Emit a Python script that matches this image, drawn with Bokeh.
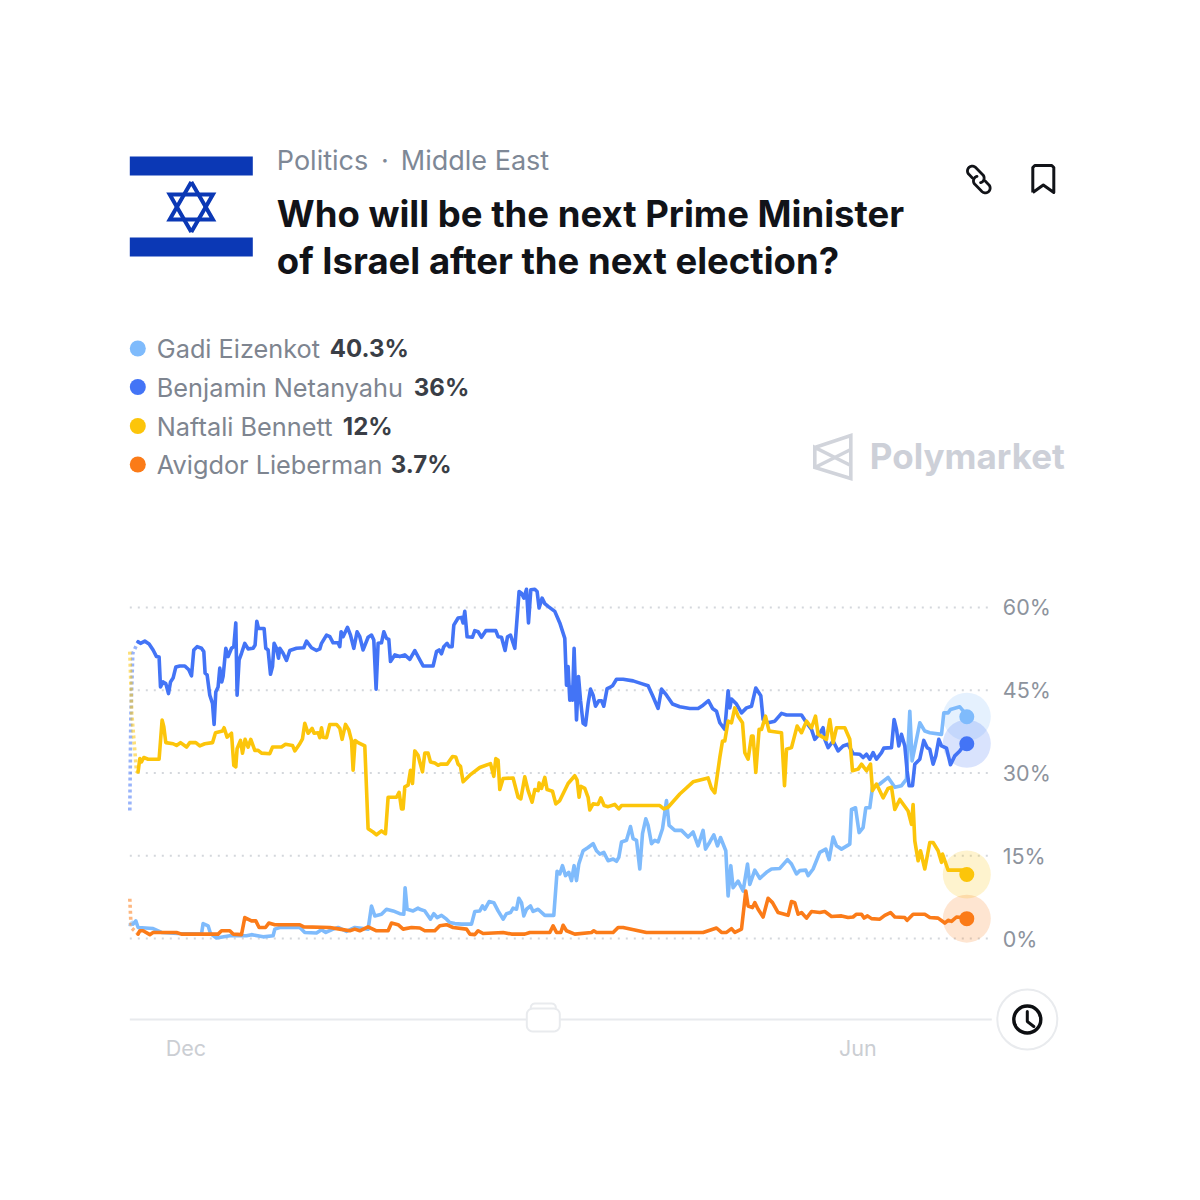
import math
from bokeh.plotting import figure
from bokeh.models import FixedTicker
from bokeh.core.properties import value
from bokeh.embed import file_html
from bokeh.resources import INLINE

# ---- data (time step, percent) ----
gadi_t = [3.3,6,8.3,23.3,31.7,48,71.7,73.3,78.3,80.7,86.7,100,116.7,121.7,133.3,143.3,145,150,170,175,186.7,191.7,196,203.3,208.3,216.7,225,238.3,241.7,245,251.7,256.7,263.3,270,274,275.3,277.3,283.3,288.3,290,295,300.7,304,307.3,311.7,316.7,320,325,331.7,341.7,345,350,352.7,355,359.3,364,368.3,373.3,376.7,380.7,383.3,386.7,389,391.7,394,396.7,400.7,403.3,408.3,415,424,427.3,430,432.7,435.7,439,441.7,444.3,446.7,449,453.3,458.3,463.3,466.7,470,474,478.3,483.3,486.7,489,491.7,496.7,500.7,503.3,506.7,510,512.7,516,518.3,521.7,525,528.3,532.7,536.7,539.3,545,551.7,558.3,563.3,568.3,573.3,575.7,580,584,587.7,590.7,596,598.3,601,603.3,608.3,613.3,617.7,620,625,630,636.7,641.7,650,657.7,661.7,666.7,670,676,678.3,683.3,690,696,699.3,703.3,706.7,711.7,720,721.7,725.7,729.3,733.3,736,740,742.7,750,758.3,765,771.7,776.7,780,782.3,785,790,795,800,811.7,814,818.3,820.7,830,835,837]
gadi_v = [2.6,3.2,2,1.8,1.1,0.9,0.8,2.7,2.3,0.9,0.1,0.5,0.5,0.7,0.3,0.5,1.7,2,2,1.1,1,1.6,1.1,1.7,2,1.3,2,1.7,5.9,4.1,4.4,5.3,5,4.5,4.4,9.2,5.3,5,5.5,5.3,5,3.5,4.5,3.8,4.2,3.5,2.9,2.7,2.6,2.6,4.9,5,5.9,5.3,6.7,6.5,5,3.5,4.5,4.7,5.5,5.3,7.3,6.5,4.1,5.3,5.9,4.9,5.3,4.2,4.2,12.2,11.7,13.2,11.4,12,10.5,13.2,10.5,13.5,15.9,16.5,17.2,15.9,15.3,15.6,14.1,14.4,14,14.7,17.5,17.8,20.3,18.1,17.8,12.6,19,21.7,20.5,17.2,17.8,17.5,19.9,25,20.5,19.6,19.6,18.4,19.3,16.8,19.6,16.2,17.5,18.8,16.8,18.3,15.9,7.7,13.2,9.2,10.4,8.6,13.5,9.8,12.4,10.9,12,12.6,12.7,14.3,13.5,11.7,12.3,12.4,11.4,12.6,15.6,16.2,14.3,18.4,16.8,16.2,17.1,23.4,23.7,19.2,20.1,23.7,23.7,27.4,28,29.2,27.4,27.7,28.9,41.2,32.2,34.6,39.1,37.6,37.3,37,40.9,40.9,41.5,42,40.9,40.2]

bibi_t = [8.3,10.7,15,19.3,23.3,26.7,29.3,30.7,33.3,36,38.7,40.7,43.3,46,50,55,59,61.7,64,67.3,71.7,74,75.3,77.3,80,82.7,84.3,86,88.3,90,92,93.3,96,98.3,101.7,104,106,107.3,109.3,111.7,115,118.3,123.3,125.3,127,128.7,134.3,136,138.3,140.7,142.7,144.3,146.7,148.7,150,153.3,156.7,160,166.7,174,176.7,181.7,186.7,190,191.7,196.7,200,203.3,208.3,210,211.3,213.3,217.7,220.7,224,227.3,230,233.3,238.3,241.7,244,246.3,248.3,251.7,254,256.7,259,260.7,265,270,275,280,285,290,293.3,303.3,306.7,309.3,311.7,314,317.3,319.3,322.3,324,328.3,331.7,333.3,335,337.3,342.7,345,348.3,351.7,356,366,368.3,371.7,375.3,377.7,380.7,385,389.3,391.7,394,396.7,398.7,401,405,407.3,409.3,412.3,415,418.3,425,430,435,436.7,438.3,440,441.7,442.7,444.3,446.7,448.7,450.7,453.3,455.7,458.3,460.7,463.3,465.7,469,471.7,474,477.3,480,482.7,486.7,493.3,503.3,511.7,518.3,523.3,528.3,531.7,536.7,542.7,550,560,568.3,573.3,578.7,582.7,586.7,590,595,598.3,600,601.7,606.7,611.7,616.7,621.7,626,631,633.3,638.3,645,651.7,656.7,671.7,676.7,681.7,685,689.3,693.3,695,698.3,703.3,708.3,713.3,718.3,723.3,730,733.3,736.7,740,743.3,746.7,751.7,754,761.7,764.3,766.7,769,771.7,775,777.3,779.3,782.7,785,790,794,797.3,800,803.3,806,809,811.7,816.7,820.7,825,830,835,837]
bibi_v = [53.8,53.5,53.9,53.4,52.3,51.1,51,45.6,46.5,46.2,44.4,46.5,47.2,49.2,49.4,49.4,48.7,47.6,52.3,52.9,52.6,52,48.1,47.8,44.1,42.6,38.8,44.7,45.6,49,46.5,47.5,52.6,51.1,52.6,52.9,57.2,44.1,50.5,51.7,53.5,52.5,52.6,53.2,57.5,56.2,56.2,52.6,52.3,47.9,49.3,53.5,52.6,50.8,52.6,51.7,50.4,52.2,52.6,52.7,53.9,52.7,52.2,52.5,53.5,55,54.7,53.6,53.6,52.9,55.6,54.7,56.4,55,52.6,55.6,54.7,52.3,54.6,55,54.1,45.2,53.5,53.6,55.6,54.4,54.2,50.2,51.4,51.1,51.4,50.6,52.2,50.5,49.4,49.4,52,52.3,51.6,52.9,53.5,52.9,52.9,56.8,58.1,58.2,57.2,59.3,54.7,54.6,55.8,55.6,54.6,55.8,55.8,54.7,54.6,52.2,54.7,55,52.6,62.9,62.6,61.7,63.3,57.2,63.2,63.3,62.9,59.9,61.7,60.7,60.2,59.3,57.2,54.4,45.9,49.3,43.2,45.6,43.2,52.6,39.6,47.5,43.2,39,38.7,42.6,45.2,44.1,42.1,43.1,43.1,42.1,45.3,45.5,45.8,47,47,46.7,46.2,45.8,43.8,41.7,45.2,44.1,42.5,42,41.7,41.7,42.3,43.1,41.7,41.2,39.1,37.9,44.9,41.8,43.4,42.5,40.9,41.8,42.1,45.4,44,39.7,39.1,39.4,40.8,40.5,40.5,39.1,37.9,36.1,37,38.2,36.1,34.6,35.8,34,34.9,35.2,33.5,33.4,32.8,33.4,32.5,33.7,32.5,33.7,34.5,34.6,39.7,37.9,34.9,37,34.9,30.4,27.7,27.7,31.6,32.5,35.9,34.6,34.3,31.6,33.1,36.1,34.9,34.5,31.5,33.1,34,35.2,35.3]

bennett_t = [8.3,10,11.7,14,18.3,29.3,32.3,34,36,43.3,46.7,50.7,56.7,60,66,70,75,82.7,85.7,92.7,94.3,97.3,101.7,104,106,107.3,110.7,112.7,115.3,118.3,121,125,128.3,131.7,140,142.7,151.7,155.7,162.7,165,170,172.7,175,178.3,182.3,184.3,188.3,190,191.7,193.3,196.7,200,206.7,210,212.3,215.7,219,221.7,223.3,225.3,228.3,235,238.3,243.3,246.7,251.7,255.7,258.3,266.7,269.3,271.7,273.3,275,278.3,280.7,282.7,285,288.3,290,292.7,295,298.3,300.7,305,308.3,310.7,317.3,322.7,326,328.3,330.7,333.3,340,350,360.7,364,366,368.3,370,373.3,383.3,388.3,391,395,398.3,402.3,405,408.3,409.3,411.7,415,417.3,422.7,426,430,438.3,445,447.3,449.3,451,455,458.3,460,463.3,468.3,471,474.3,478.3,485,489,491.7,530,534,538.3,550,563.3,578.3,581.7,585,590,592.7,595,598.3,601.7,605,608.3,612.7,615,618.3,621.7,623.3,626,629.3,631.7,635.7,639.3,651.7,654.7,656.7,661.7,667.3,671.7,676.7,681.7,685.7,688.3,696.7,700,703.3,706.7,715,720,722.7,728.3,731.7,736.7,740.7,742.7,746.7,753.3,758.3,761.7,765,770,778.3,781.7,783.3,785,788.3,790.7,795,800,803.3,808.3,811.7,812.7,818.3,836,837]
bennett_v = [30.2,32.6,32,32.8,32.5,32.5,39.6,38.4,35.5,35.3,35,35.5,34.7,35.5,35.5,34.9,35.3,35.5,37.3,37.6,38.2,36.5,37.2,31.4,31.1,34.4,35.9,33.6,36.1,34.7,36.1,34.1,34.1,33.6,33.5,34.7,34.7,35.2,35,34,35.3,36.2,39,37.2,38.1,37.2,37.3,36.4,38.2,36.5,36.4,38.8,38.8,38.1,36.1,38.8,37.8,35.9,30.5,35.9,35.5,34.9,19.9,19.3,18.8,19.5,19,25.6,25.6,26.5,23.5,23.5,27.5,27.8,30.5,28.1,34,33.2,32,30.2,33.6,33.6,32,31.8,31.4,31.6,31.6,33,32.9,31.6,31.2,28.4,29.6,31,31.7,29.4,32.6,32.3,27,29,29.1,25.6,25.3,29.3,26.8,24.7,27,26.8,28.2,27.2,29.2,27,26.7,24.4,25,28.1,29.5,28.7,25.6,27.6,27.2,25.6,23.3,24.4,24.3,25.5,24.1,23.9,24.3,23.5,24.1,24.1,23.5,23.8,26.2,28.4,29.1,27.2,26.4,32.8,35.8,35.8,39.4,39.1,41.8,40.3,39.1,33.7,32.5,36.7,36.7,30.1,37.9,37.9,40.3,37.6,37.3,27.7,34.3,34.6,38.5,37.3,39.4,38.2,40.3,37,36.1,39.7,35.5,38.2,38.2,36.1,30.4,30.7,31.6,30.4,31.6,26.8,28,25.5,27.2,27.4,23.4,25.2,23.1,20.7,24.3,17.7,14.1,15.9,12.6,17.4,17.4,15.9,13.8,15.3,12.4,12.4,11.6]

lieberman_t = [8.3,10,13.3,20,23.3,46.7,51.7,88.3,91.7,100,103.3,111.7,115,121.7,126,129.3,135.7,139,145,170,174,200,210,220,225,230,238.3,246.7,258.3,261.7,268.3,273.3,281.7,290,295,305,310,316.7,323.3,336.7,340,345,348.3,353.3,373.3,381.7,395,400,420,423.3,426.7,431,433.3,436.7,445,461.7,464,466.7,483.3,488.3,493.3,516.7,573.3,580,586.7,591.7,596.7,601.7,605,611.7,616,618.3,622.7,625,628.3,633.3,638.3,642.7,648.3,658.3,661.7,665,668.3,671.7,676.7,681.7,690,695,701.7,711.7,718.3,723.3,726.7,731.7,734.3,737.7,741.7,750,755,760.7,765,775,777.3,783.3,795,800,808.3,815,818.3,821.7,826.7,836,837]
lieberman_v = [0.8,1.4,1.4,0.7,1.1,1.1,0.8,0.8,1.4,1.4,0.8,0.7,3.8,3.2,3.2,2,2,2.8,2.5,2.5,2.1,2,1.7,1.4,1.7,1.4,2.1,1.4,1.4,2.8,2.5,1.7,2,1.9,1.4,1.4,2.3,2.5,2,1.7,0.8,0.7,1.4,0.9,1.1,0.8,0.8,1.1,1.1,2.3,1.1,1.1,2.4,1.4,0.8,1.1,1.4,1.1,1.1,2,2,1.1,1.1,1.5,1.9,1.1,1.1,1.8,1.1,1.7,8.6,5.9,5.6,6.5,5.3,3.9,7.3,6.5,4.7,4.2,6.7,6.5,4.4,4.7,3.7,4.9,4.7,4.9,4,4.1,3.8,3.9,4.4,4.4,3.7,4.1,3.6,3.5,4.2,4.7,3.9,3.8,3.3,4.4,4.4,3.8,3.7,2.8,3.3,3.1,3.9,3.7,3.6]

# faded lead-in of each series at the left edge
gadi_lead_t, gadi_lead_v = [0,1,3.3], [2.2,3.2,2.6]
bibi_lead_t, bibi_lead_v = [0,1,3,8.3], [23.2,40,51.7,53.8]
bennett_lead_t, bennett_lead_v = [0,2,6.7,8.3], [52,40.8,30.2,30.2]
lieberman_lead_t, lieberman_lead_v = [0,1.3,8.3], [7.2,2,0.8]

y_ticks = [0,15,30,45,60]
y_tick_labels = ["0%","15%","30%","45%","60%"]
x_ticks = [56,728]
x_tick_labels = ["Dec","Jun"]

names = ["Gadi Eizenkot","Benjamin Netanyahu","Naftali Bennett","Avigdor Lieberman"]
shares = ["40.3%","36%","12%","3.7%"]
colors = ["#7FBBFC","#4374F6","#FCC50A","#FB7B18"]
category_left = "Politics"
category_dot = "·"
category_right = "Middle East"
title_lines = ["Who will be the next Prime Minister","of Israel after the next election?"]
brand = "Polymarket"

# ---- page geometry helpers: page pixels -> chart scale ----
PX = 5.517
def X(px): return px-130
def Y(py): return (938-py)/PX
def XS(a): return [X(v) for v in a]
def YS(a): return [Y(v) for v in a]

FONT = value("Inter")
p = figure(width=1184, height=1184, output_backend="svg", toolbar_location=None,
           x_range=(X(0.7),X(1184.7)), y_range=(Y(1184),Y(0)),
           x_axis_location="below", y_axis_location="right",
           min_border=0, min_border_left=0, min_border_right=0, min_border_top=0, min_border_bottom=0,
           outline_line_color=None, background_fill_color="white", border_fill_color="white")
p.grid.visible = False

ya = p.yaxis[0]
ya.fixed_location = X(990)
ya.ticker = FixedTicker(ticks=y_ticks)
ya.major_label_overrides = dict(zip(y_ticks,y_tick_labels))
ya.axis_line_color = None
ya.major_tick_line_color = None
ya.minor_tick_line_color = None
ya.major_label_standoff = 7
ya.major_label_text_font = "Inter"
ya.major_label_text_font_size = "21.5px"
ya.major_label_text_color = "#8D939D"

xa = p.xaxis[0]
xa.fixed_location = Y(1019)
xa.ticker = FixedTicker(ticks=x_ticks)
xa.major_label_overrides = dict(zip(x_ticks,x_tick_labels))
xa.axis_line_color = None
xa.major_tick_line_color = None
xa.minor_tick_line_color = None
xa.major_label_standoff = 9
xa.major_label_text_font = "Inter"
xa.major_label_text_font_size = "21.5px"
xa.major_label_text_color = "#CBCED3"

# dotted gridlines and slider rule
p.segment(x0=[X(130)]*len(y_ticks), x1=[X(990)]*len(y_ticks), y0=y_ticks, y1=y_ticks,
          line_color="#D4D7DC", line_width=2, line_dash="2 6")
p.segment(x0=[X(130)], x1=[X(992)], y0=[Y(1019)], y1=[Y(1019)], line_color="#E8EAED", line_width=2)

# series
series = [(gadi_t,gadi_v,gadi_lead_t,gadi_lead_v),(bibi_t,bibi_v,bibi_lead_t,bibi_lead_v),
          (bennett_t,bennett_v,bennett_lead_t,bennett_lead_v),(lieberman_t,lieberman_v,lieberman_lead_t,lieberman_lead_v)]
for (t,v,lt,lv),c in zip(series,colors):
    p.line(lt,lv,line_color=c,line_width=3.6,line_alpha=0.55,line_dash="3 3")
for (t,v,lt,lv),c in zip(series,colors):
    p.line(t,v,line_color=c,line_width=3.6,line_join="round",line_cap="round")
for (t,v,lt,lv),c in zip(series,colors):
    p.scatter([t[-1]],[v[-1]],size=48,fill_color=c,fill_alpha=0.2,line_color=None)
for (t,v,lt,lv),c in zip(series,colors):
    p.scatter([t[-1]],[v[-1]],size=15,fill_color=c,line_color=None)

# header
def label(px,py,txt,size,color,style="normal",align="left",font=FONT):
    p.text(x=[X(px)],y=[Y(py)],text=[txt],text_font=font,text_font_size=size,text_color=color,
           text_font_style=style,text_baseline="middle",text_align=align)

def rrect(x0,y0,x1,y1,r,n=6):
    xs,ys=[],[]
    for cx,cy,a0 in ((x1-r,y0+r,-90),(x1-r,y1-r,0),(x0+r,y1-r,90),(x0+r,y0+r,180)):
        for i in range(n+1):
            a=math.radians(a0+90*i/n)
            xs.append(cx+r*math.cos(a)); ys.append(cy+r*math.sin(a))
    return xs+xs[:1],ys+ys[:1]

# flag
FLAG="#0B38B5"
p.quad(left=[X(130),X(130)],right=[X(253),X(253)],top=[Y(156),Y(237)],bottom=[Y(175),Y(256)],
       fill_color=FLAG,line_color=None)
cx,cy,R=191.5,206.5,25
for s in (1,-1):
    tx=[cx,cx+s*21.6,cx-s*21.6,cx]
    ty=[cy-s*R,cy+s*R/2,cy+s*R/2,cy-s*R]
    p.line(XS(tx),YS(ty),line_color=FLAG,line_width=4,line_join="miter")

label(277,160,category_left,"27px","#7E8896")
label(385,159.5,category_dot,"27px","#7E8896",align="center")
label(401,160,category_right,"27px","#7E8896")
label(277,213.5,title_lines[0],"36.5px","#111318","bold")
label(277,260.5,title_lines[1],"36.5px","#111318","bold")

# legend
rows=[348,386.5,425.5,464]
value_x=[330,414,343,391]
for py,n,s,c,vx in zip(rows,names,shares,colors,value_x):
    p.scatter([X(138)],[Y(py)],size=16,fill_color=c,line_color=None)
    label(157,py,n,"25.3px","#7E8590")
    label(vx,py,s,"24px","#3A3E46","bold")

# brand
LOGO="#D1D4DB"
p.line(XS([815,851,851,815,815,851]),YS([447,435,478,467,447,465]),line_color=LOGO,line_width=3.6,line_join="miter")
p.line(XS([815,851]),YS([467,449]),line_color=LOGO,line_width=3.6)
label(870,455,brand,"35px","#CDD0D8","bold")

# link icon: two interlocked rounded links on a diagonal
def stadium(c,a,r):
    d=math.radians(45); ux,uy=math.cos(d),math.sin(d); nx,ny=-uy,ux
    pts=[]
    for i in range(25):
        f=math.radians(i*7.5)
        pts.append((c[0]-ux*a+r*(math.cos(f)*nx-math.sin(f)*ux), c[1]-uy*a+r*(math.cos(f)*ny-math.sin(f)*uy)))
    for i in range(25):
        f=math.radians(i*7.5)
        pts.append((c[0]+ux*a+r*(-math.cos(f)*nx+math.sin(f)*ux), c[1]+uy*a+r*(-math.cos(f)*ny+math.sin(f)*uy)))
    return pts
def mid(u,w): return ((u[0]+w[0])/2,(u[1]+w[1])/2)
a_pts=stadium((976,174),5,4.8)
b_pts=stadium((982,184),5,4.8)
a_path=[mid(a_pts[49],a_pts[0])]+a_pts[:42]
b_path=[mid(b_pts[24],b_pts[25])]+b_pts[25:]+b_pts[:17]
for pts in (a_path,b_path):
    p.line(XS([q[0] for q in pts]),YS([q[1] for q in pts]),line_color="#111318",line_width=2.8,line_cap="round")

# bookmark icon
bx=[1033,1033,1035,1052,1054,1054,1043.5,1033]
by=[192,167,165,165,167,192,184.5,192]
p.line(XS(bx),YS(by),line_color="#111318",line_width=3,line_join="round")

# slider handle
for box,fill in (((531,1003,556,1020,4),"white"),((527,1008,560,1031,6),"white")):
    xs,ys=rrect(*box)
    p.patch(XS(xs),YS(ys),fill_color=fill,line_color="#E9EBEE",line_width=2)

# clock button
p.scatter([X(1027.5)],[Y(1019)],size=60,fill_color="white",line_color="#E9EBEE",line_width=2)
p.scatter([X(1027.5)],[Y(1019)],size=27,fill_color="white",line_color="#0D0F12",line_width=3.4)
p.line(XS([1027.5,1027.5,1034]),YS([1011,1021,1026]),line_color="#0D0F12",line_width=3,line_cap="round")

open("out.html","w").write(file_html(p,INLINE))
